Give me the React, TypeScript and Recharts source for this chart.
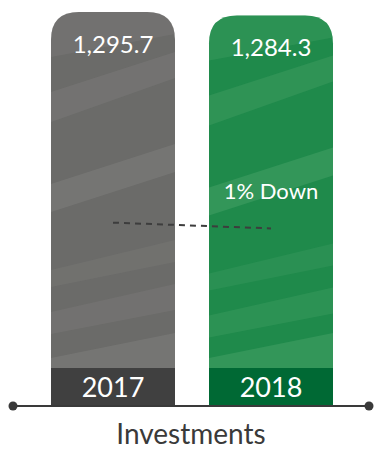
import React from "react";
import { ComposedChart, Bar, Line, XAxis, YAxis, LabelList } from "recharts";

const years = ["2017", "2018"];
const investments = [1295.7, 1284.3];
const trendValues = [603, 584];

const W = 374;
const H = 452;
const FONT = "Lato, 'Open Sans', sans-serif";

const palette = [
  { base: "#6b6b69", light: "#838280", box: "#404040" },
  { base: "#1f8a4b", light: "#4ca46a", box: "#006934" },
];

const data = years.map((year, i) => ({
  year,
  value: investments[i],
  trend: trendValues[i],
}));

function pctChange(a: number, b: number) {
  return Math.round(Math.abs(((b - a) / a) * 100));
}

// Bar with a rounded top, painted brush bands and the year plate at its foot
function TexturedBar(props: any) {
  const { x, y, width, height, index, payload } = props;
  const c = palette[index % palette.length];
  const r = Math.min(28, width / 2);
  const b = y + height;
  const id = `clip-${index}`;
  const d = `M${x},${b} L${x},${y + r} Q${x},${y} ${x + r},${y} L${x + width - r},${y} Q${x + width},${y} ${x + width},${y + r} L${x + width},${b} Z`;
  const band = (ly1: number, ly2: number, ry1: number, ry2: number, op: number) => (
    <path
      d={`M${x},${ly1} L${x + width},${ry1} L${x + width},${ry2} L${x},${ly2} Z`}
      fill={c.light}
      opacity={op}
    />
  );
  const plateH = 38;
  return (
    <g>
      <defs>
        <clipPath id={id}>
          <path d={d} />
        </clipPath>
      </defs>
      <path d={d} fill={c.base} />
      <g clipPath={`url(#${id})`}>
        {band(y, y + 45, y, y + 22, 0.3)}
        {band(y + 80, y + 110, y + 40, y + 66, 0.35)}
        {band(y + 172, y + 200, y + 132, y + 160, 0.45)}
        {band(y + 258, y + 275, y + 228, y + 250, 0.25)}
        {band(y + 300, y + 322, y + 272, y + 298, 0.3)}
        {band(b - plateH - 10, b, b - plateH - 35, b, 0.45)}
      </g>
      <rect x={x} y={b - plateH} width={width} height={plateH} fill={c.box} />
      <text
        x={x + width / 2}
        y={b - plateH / 2 + 10}
        textAnchor="middle"
        fill="#fff"
        fontSize={27}
        fontFamily={FONT}
      >
        {payload.year}
      </text>
    </g>
  );
}

function ValueLabel(props: any) {
  const { x, y, width, value, index } = props;
  const cx = x + width / 2;
  return (
    <g>
      <text x={cx} y={y + 41} textAnchor="middle" fill="#fff" fontSize={24} fontFamily={FONT}>
        {value.toLocaleString("en-US", { minimumFractionDigits: 1 })}
      </text>
      {index === 1 && (
        <text x={cx} y={y + 184} textAnchor="middle" fill="#fff" fontSize={22} fontFamily={FONT}>
          {`${pctChange(investments[0], investments[1])}% ${investments[1] < investments[0] ? "Down" : "Up"}`}
        </text>
      )}
    </g>
  );
}

export default function App() {
  return (
    <div style={{ position: "absolute", left: 0, top: 0, width: W, height: H, background: "#fff" }}>
      <ComposedChart
        width={W}
        height={H}
        data={data}
        margin={{ top: 12, right: 24, left: 34, bottom: 46 }}
        barCategoryGap={34}
      >
        <XAxis dataKey="year" hide />
        <YAxis hide domain={[0, investments[0]]} />
        <Bar dataKey="value" barSize={124} shape={<TexturedBar />} isAnimationActive={false}>
          <LabelList dataKey="value" content={<ValueLabel />} />
        </Bar>
        <Line
          dataKey="trend"
          stroke="#3d3d3d"
          strokeWidth={2}
          strokeDasharray="6 5"
          dot={false}
          activeDot={false}
          isAnimationActive={false}
        />
      </ComposedChart>
      <svg
        width={W}
        height={H}
        style={{ position: "absolute", left: 0, top: 0, pointerEvents: "none" }}
      >
        <line x1={13} y1={406} x2={369} y2={406} stroke="#3a3a3a" strokeWidth={2} />
        <circle cx={13} cy={406} r={4.5} fill="#3a3a3a" />
        <circle cx={369} cy={406} r={4.5} fill="#3a3a3a" />
        <text x={191} y={444} textAnchor="middle" fill="#3a3a3a" fontSize={28} fontFamily={FONT}>
          Investments
        </text>
      </svg>
    </div>
  );
}
